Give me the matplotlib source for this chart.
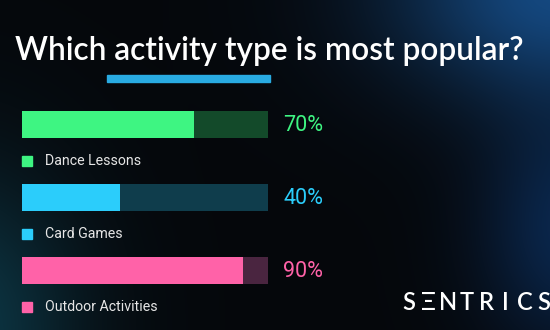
import numpy as np
import matplotlib
matplotlib.use('Agg')
import matplotlib.pyplot as plt

# data
categories = ['Dance Lessons', 'Card Games', 'Outdoor Activities']
values = [70, 40, 90]
colors = ['#3ef582', '#2bcdfb', '#ff62a8']
track_colors = ['#134a2a', '#0f3d4c', '#4a2540']

W, H = 550, 330
fig = plt.figure(figsize=(5.5, 3.3), dpi=100)
ax = fig.add_axes([0, 0, 1, 1])
ax.set_xlim(0, W)
ax.set_ylim(H, 0)
ax.axis('off')

# background: near black with glows top right, bottom left, right edge
yy, xx = np.mgrid[0:H, 0:W]
base = np.array([0.02, 0.03, 0.045])
img = np.ones((H, W, 3)) * base
g1 = np.exp(-(((xx - 560) / 170) ** 2 + ((yy + 10) / 110) ** 2))
img += g1[..., None] * np.array([0.06, 0.25, 0.45])
g2 = np.exp(-(((xx + 40) / 120) ** 2 + ((yy - 330) / 160) ** 2))
img += g2[..., None] * np.array([0.03, 0.18, 0.22])
g3 = np.exp(-(((xx - 570) / 90) ** 2 + ((yy - 230) / 120) ** 2))
img += g3[..., None] * np.array([0.02, 0.12, 0.25])
ax.imshow(np.clip(img, 0, 1), extent=[0, W, H, 0], aspect='auto', zorder=0)

# title
ax.text(15, 51, 'Which activity type is most popular?', color='white',
        fontsize=22.8, fontfamily='Lato', fontweight='semibold', va='center', ha='left')
ax.add_patch(plt.Rectangle((107, 74.5), 163, 7, color='#29abe2', zorder=2))

x0, full = 22, 246
bar_h = 27
for i, (cat, v) in enumerate(zip(categories, values)):
    yc = 124.5 + i * 73
    ax.barh(yc, full, left=x0, height=bar_h, color=track_colors[i], zorder=2)
    ax.barh(yc, full * v / 100, left=x0, height=bar_h, color=colors[i], zorder=3)
    ax.text(283, yc + 1, f'{v}%', color=colors[i], fontsize=15.5,
            fontfamily='Roboto', va='center', ha='left')
    ly = yc + 36.5
    ax.add_patch(plt.Rectangle((22, ly - 5), 10, 10, color=colors[i], zorder=3))
    ax.text(45, ly, cat, color='#e6e6e6', fontsize=10.2, fontfamily='Roboto',
            va='center', ha='left')

# logo
for j, ch in enumerate('SΞNTRICS'):
    ax.text(409 + j * 19.3, 303, ch, color='white', fontsize=17,
            fontfamily='Lato', fontweight='semibold', va='center', ha='center')

fig.savefig('out.png', dpi=100)
